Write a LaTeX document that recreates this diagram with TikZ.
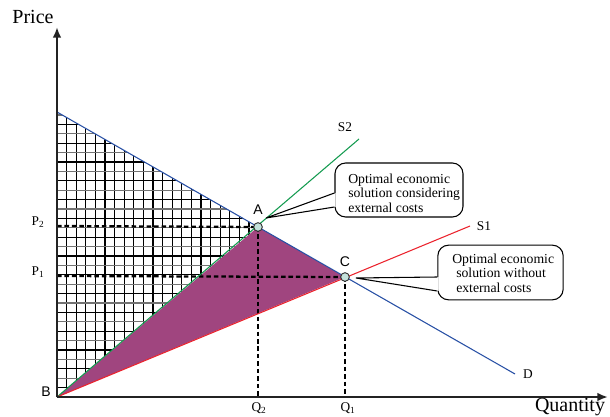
\documentclass[tikz,border=0pt]{standalone}
\usepackage{fontspec}
\setmainfont{Liberation Serif}
\newfontfamily\arialfont{Liberation Sans}
\usetikzlibrary{arrows.meta,calc}
\definecolor{sgreen}{RGB}{20,155,80}
\definecolor{sred}{RGB}{235,35,45}
\definecolor{dblue}{RGB}{40,80,165}
\definecolor{welfare}{RGB}{160,69,127}
\definecolor{markfill}{RGB}{196,226,220}
\definecolor{axisgray}{RGB}{35,35,35}
\begin{document}
\begin{tikzpicture}[x=0.75pt,y=-0.75pt,
  axisline/.style={line width=1.9pt,draw=axisgray,-{Latex[length=8pt,width=6.5pt]}},
  curve/.style={line width=0.8pt},
  guide/.style={line width=1.7pt,dash pattern=on 3.4pt off 2.2pt},
  gridline/.style={line width=0.9pt},
  marker/.style={circle,draw=black!80,fill=markfill,line width=0.7pt,inner sep=0pt,minimum size=6.5pt},
  callout/.style={draw,line width=0.8pt,rounded corners=8pt,fill=white,inner sep=0pt},
  boxtext/.style={font=\fontsize{10.3}{10.9}\selectfont,align=left,inner sep=0pt},
  ticklabel/.style={font=\fontsize{10}{12}\selectfont,inner sep=0pt},
  pointlabel/.style={font=\arialfont\fontsize{10.5}{12}\selectfont,inner sep=0pt},
  axislabel/.style={font=\fontsize{15}{18}\selectfont,inner sep=0pt}]
\useasboundingbox (0,0) rectangle (610,417);
% key points
\coordinate (B) at (57,397);
\coordinate (Dtop) at (57,112);
\coordinate (A) at (258,227);
\coordinate (C) at (345,277);
\coordinate (Dend) at (515,374);
\coordinate (S2end) at (359,139);
\coordinate (S1end) at (470,226);
\coordinate (Ytip) at (57,27);
\coordinate (Xtip) at (608,397);
\coordinate (P2) at (57,226);
\coordinate (P1) at (57,276);
\coordinate (Q2) at (258,397);
\coordinate (Q1) at (345,397);
% cross-hatched area
\begin{scope}
\clip (Dtop) -- (A) -- (B) -- cycle;
\foreach \i in {1,...,22} {\draw[gridline] (57+9.6*\i,100) -- (57+9.6*\i,400);}
\foreach \k in {1,...,31} {
  \pgfmathsetmacro{\gc}{mod(\k,2)==0 ? 55 : 100}
  \draw[gridline,black!\gc] (50,397-9.4*\k) -- (270,397-9.4*\k);}
\end{scope}
% welfare triangle
\fill[welfare] (B) -- (A) -- (C) -- cycle;
% guides
\draw[guide] (P2) -- (A);
\draw[guide] (P1) -- (C);
\draw[guide] (A) -- (Q2);
\draw[guide] (C) -- (Q1);
% curves
\draw[curve,dblue] (Dtop) -- (Dend);
\draw[curve,sgreen] (B) -- (S2end);
\draw[curve,sred] (B) -- (S1end);
% axes
\draw[axisline] (B) -- (Ytip);
\draw[axisline] (B) -- (Xtip);
% markers
\node[marker] (mA) at (A) {};
\node[marker] (mC) at (C) {};
% labels
\node[axislabel] (lprice) at (33,17) {Price};
\node[axislabel] (lqty) at (570,407) {Quantity};
\node[ticklabel] (lp2) at (38,222) {P\textsubscript{2}};
\node[ticklabel] (lp1) at (38,272) {P\textsubscript{1}};
\node[ticklabel] (lq2) at (259,408) {Q\textsubscript{2}};
\node[ticklabel] (lq1) at (348,408) {Q\textsubscript{1}};
\node[pointlabel] (lA) at (258,210) {A};
\node[pointlabel] (lC) at (345,262) {C};
\node[pointlabel] (lB) at (46,392) {B};
\node[ticklabel] (lS2) at (345,127) {S2};
\node[ticklabel] (lS1) at (484,226) {S1};
\node[ticklabel] (lD) at (528,374) {D};
% callout 1
\node[callout,minimum width=96pt,minimum height=40.5pt] (box1) at (399,190) {};
\coordinate (tip1) at (266,218);
\fill[white] (tip1) -- ($(box1.west)+(1.2,3)$) -- ($(box1.west)+(1.2,17)$) -- cycle;
\draw[line width=0.8pt] ($(box1.west)+(0,3)$) -- (tip1) -- ($(box1.west)+(0,17)$);
\node[boxtext,anchor=west] (t1) at (348,193) {Optimal economic\\solution considering\\external costs};
% callout 2
\node[callout,minimum width=94pt,minimum height=41pt] (box2) at (500.5,272.5) {};
\coordinate (tip2) at (356,278);
\fill[white] (tip2) -- ($(box2.west)+(1.2,4.5)$) -- ($(box2.west)+(1.2,18.5)$) -- cycle;
\draw[line width=0.8pt] ($(box2.west)+(0,4.5)$) -- (tip2) -- ($(box2.west)+(0,18.5)$);
\node[boxtext,anchor=west] (t2) at (452,273) {Optimal economic\\\hspace*{3pt}solution without\\\hspace*{3pt}external costs};
\end{tikzpicture}
\end{document}
